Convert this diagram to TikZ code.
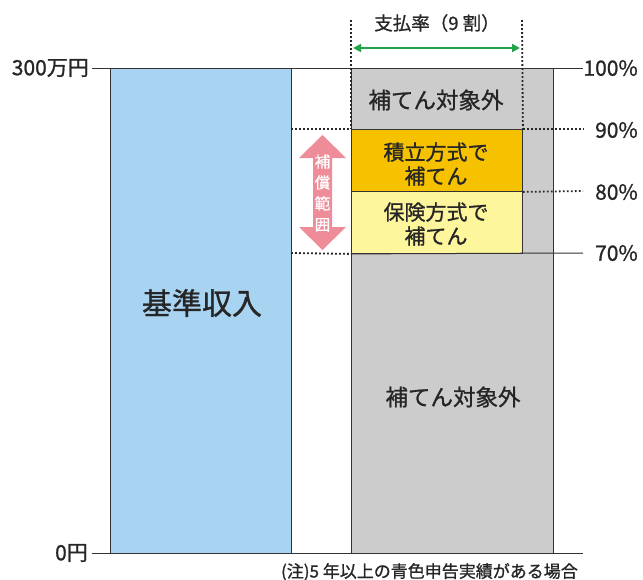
\documentclass[tikz,border=0pt]{standalone}
\usepackage{fontspec}
\setmainfont{Noto Sans CJK JP}[UprightFeatures={FakeBold=1}]
\usetikzlibrary{arrows.meta}
\definecolor{basebl}{HTML}{A8D4F2}
\definecolor{grayf}{HTML}{CCCCCC}
\definecolor{orangef}{HTML}{F6C200}
\definecolor{lightyf}{HTML}{FEF69C}
\definecolor{greenarr}{HTML}{22A24A}
\definecolor{pinkarr}{HTML}{EE8C9A}
\definecolor{linec}{HTML}{333333}
\tikzset{
  barbox/.style={draw=linec, line width=0.9pt, anchor=north west, inner sep=0pt},
  axisline/.style={draw=linec, line width=1pt},
  dotline/.style={draw=black!85, line width=1.8pt, dash pattern=on 1.8pt off 2.2pt},
  lbl/.style={font=\fontsize{21}{23}\selectfont, text=black!85, inner sep=0pt},
  boxtxt/.style={font=\fontsize{21}{24}\selectfont, text=black!85, align=center, inner sep=0pt},
}
\begin{document}
\begin{tikzpicture}[x=1pt,y=-1pt]
\useasboundingbox (0,0) rectangle (643,579);
% bars
\node[barbox, fill=basebl, minimum width=181pt, minimum height=485pt] (base) at (110,68) {};
\node[barbox, fill=grayf, minimum width=202pt, minimum height=485pt] (pay) at (351,68) {};
\node[barbox, fill=orangef, minimum width=171pt, minimum height=62pt] (tsumi) at (351,129) {};
\node[barbox, fill=lightyf, minimum width=171pt, minimum height=62pt] (hoken) at (351,191) {};
% level coordinates
\coordinate (t100) at (583,68);
\coordinate (l300) at (92,68);
\coordinate (b0) at (583,553);
\coordinate (l0) at (92,553);
\coordinate (r90) at (583,129);
\coordinate (r80) at (583,191);
\coordinate (r70) at (583,253);
\coordinate (m90) at (291,129);
\coordinate (m70) at (291,253);
% axis lines
\draw[axisline] (l300) -- (t100);
\draw[axisline] (l0) -- (b0);
\draw[axisline] (hoken.south west) -- (r70);
\draw[dotline] (tsumi.north east) -- (r90);
\draw[dotline] (tsumi.south east) -- (r80);
\draw[dotline] (m90) -- (tsumi.north west);
\draw[dotline] (m70) -- (hoken.south west);
% pay-rate dotted verticals and arrow
\coordinate (vl) at (351,20);
\coordinate (vr) at (522,20);
\draw[dotline] (vl) -- (tsumi.north west);
\draw[dotline] (vr) -- (tsumi.north east);
\coordinate (al) at (353,48);
\coordinate (ar) at (520,48);
\draw[greenarr, line width=2.6pt, {Triangle[length=8pt,width=8pt]}-{Triangle[length=8pt,width=8pt]}] (al) -- (ar);
\node[lbl, font=\fontsize{18.5}{20}\selectfont] (rate) at (437,23) {支払率（9 割）};
% pink double arrow
\fill[pinkarr] (322.5,135) -- (346,158) -- (332,158) -- (332,227) -- (346,227) -- (322.5,250)
  -- (299,227) -- (313,227) -- (313,158) -- (299,158) -- cycle;
\node[font=\fontsize{15.5}{21}\selectfont, text=white, align=center, inner sep=0pt] (rangetxt) at (322.5,193) {補\\償\\範\\囲};
% texts
\node[boxtxt, font=\fontsize{30}{32}\selectfont] (basetxt) at (202,303) {基準収入};
\node[boxtxt, font=\fontsize{22.5}{24}\selectfont] (out1) at (436,100) {補てん対象外};
\node[boxtxt] (tsumitxt) at (436,164) {積立方式で\\補てん};
\node[boxtxt] (hokentxt) at (436,224) {保険方式で\\補てん};
\node[boxtxt, font=\fontsize{22.5}{24}\selectfont] (out2) at (453,397) {補てん対象外};
% axis labels
\node[lbl, anchor=east] (y300) at ([xshift=-3pt]l300) {300万円};
\node[lbl, anchor=east] (y0) at ([xshift=-4pt]l0) {0円};
\node[lbl, anchor=east] (p100) at (638,68) {100\%};
\node[lbl, anchor=east] (p90) at (638,130) {90\%};
\node[lbl, anchor=east] (p80) at (638,192) {80\%};
\node[lbl, anchor=east] (p70) at (638,253) {70\%};
\node[lbl, font=\fontsize{17}{19}\selectfont, anchor=east] (note) at (578,572) {(注)5 年以上の青色申告実績がある場合};
\end{tikzpicture}
\end{document}
